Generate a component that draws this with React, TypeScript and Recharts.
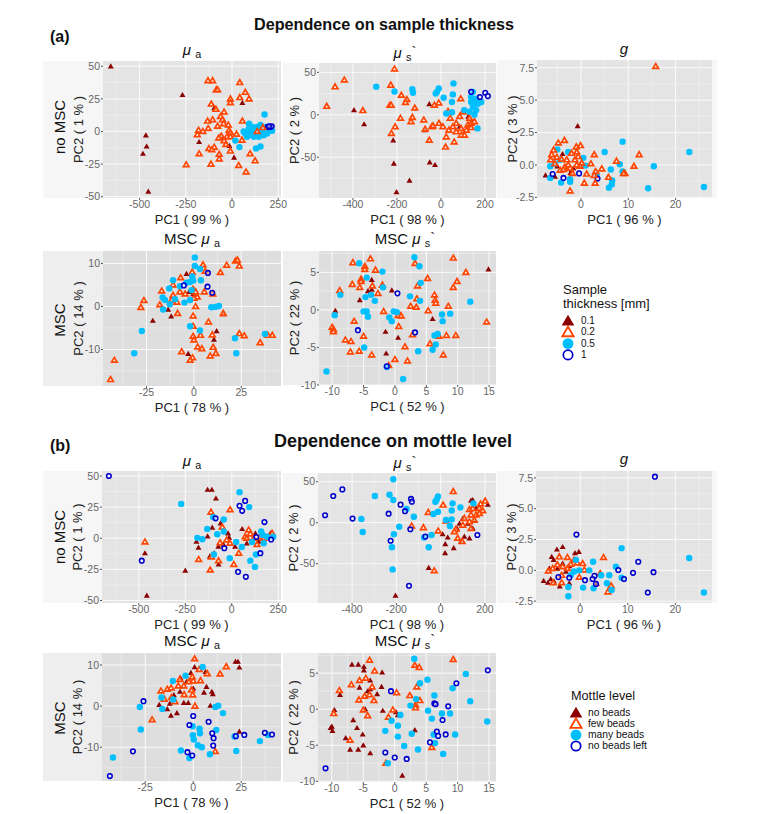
import React from 'react';
import { ScatterChart, Scatter, XAxis, YAxis, CartesianGrid } from 'recharts';

type Pt = [number, number];

// ---------- (a) thickness, mu_a ----------
const a1Thin: Pt[] = [[-656,50],[-268,28],[-466,-3],[-462,-11.5],[-482,-17],[-453,-46],[56,22],[-178,-8],[11,-20],[-96,18],[-14,-11],[-54,-5]];
const a1Few: Pt[] = [[-130,39],[-105,39],[42,37.5],[72,30],[-85,32],[-78,32],[42,26],[92,25],[-9,25],[-9,22],[-112,21],[-87,17],[-43,15],[-62,11.5],[-132,8],[-105,9],[-51,9],[-45,6],[56,8],[-78,4],[-20,5],[-181,1],[-129,2.3],[-158,0],[-188,-2.5],[-16,1],[-9,-1],[24,-2],[-58,-3.5],[-72,-5],[-27,-4],[-9,-4],[-43,-7],[54,-6.6],[-33,-10],[-96,-12],[-125,-13],[-109,-14],[-9,-15],[-178,-17],[-69,-17.5],[-69,-21],[98,-17],[125,-22.5],[-248,-25.5],[-114,-25],[36,-26],[76,-31]];
const a1Many: Pt[] = [[176,13],[92,6],[18,-7],[40,-12],[130,-13],[154,-11.5],[63,0],[81,-4],[90,2],[109,3.5],[118,0.5],[136,3.5],[154,5],[163,1],[181,3.5],[199,1],[217,0.5],[190,-1.5],[172,-3],[145,-4],[118,-4],[90,-3],[72,-1.5],[100,0],[127,-1.5],[154,-1],[172,1.5],[208,3]];
const a1Open: Pt[] = [[194,3.5],[208,3.5],[215,4],[200,4]];
const a1Top: Pt[] = [[167,3],[136,0]];

// ---------- (a) thickness, mu_s ----------
const a2Thin: Pt[] = [[-395,5.5],[-349,-11],[-217,-30],[-214,-57.5],[-51,-56],[-27,-59],[-143,-77.5],[-202,-91],[-53,12.6],[-74,-18],[85,-14],[124,-2]];
const a2Few: Pt[] = [[-211,54],[-439,41],[-481,33],[-519,10],[-355,5],[-228,35],[-232,11.4],[-226,11.4],[-180,23],[-155,18],[-161,14.6],[-119,8],[-184,-4],[-130,-3],[-136,-8],[-208,-14],[-225,-22],[-78,-6],[-72,-17],[-42,-14],[-36,-13],[-53,-30],[-30,11.4],[-10,14],[90,19],[32,4],[42,-4],[-9,-10],[9,-14],[36,-18],[24,-26],[21,-38],[60,-32],[69,-20],[92,-24],[107,-24],[69,-10],[85,-2],[100,3.5],[130,-4],[122,-12],[137,-10],[152,-8],[115,-18],[54,-14],[92,-16],[137,-15]];
const a2Many: Pt[] = [[-294,33],[-211,27.5],[-130,30],[-127,26],[-10,31],[-18,27],[-24,25],[12,20],[57,37],[54,24],[50,15],[106,5.5],[24,1.6],[50,3],[145,27],[137,15],[152,15],[168,13],[183,15],[145,9.4],[160,5.5],[130,3.5],[152,0],[166,-16],[137,21],[160,19]];
const a2Open: Pt[] = [[137,27],[177,21],[201,26],[213,22]];

// ---------- (a) thickness, g ----------
const a3Thin: Pt[] = [[-0.7,3],[-7.5,-0.8],[-5.5,-0.9],[-3.9,0.85],[-5,-0.1],[-2,-0.4],[-2.2,-0.6],[-1.6,-0.25]];
const a3Many: Pt[] = [[8.8,1.8],[5,1],[22.9,1],[8.2,0.05],[6.3,-0.35],[15.4,-0.1],[8.8,-0.5],[14.2,-1.8],[26,-1.7],[6.6,-1.2],[6.5,-1.5],[5.9,-1.75],[0.5,0.55],[1,-0.05],[-6.5,-0.1],[-6.5,-1],[-4.2,-1.35],[-2.3,-1.3],[-2.3,-1.1],[-5.5,0.1],[-2.7,1],[-5,1.2],[-4.4,0.4],[3.3,-0.75]];
const a3Open: Pt[] = [[-6,-0.7],[-3.7,-1],[-0.4,-0.65],[3.5,-1.05]];
const a3Few: Pt[] = [[15.8,7.6],[-3.5,1.9],[-4.8,1.7],[-1,1.4],[-0.1,1.5],[2.8,0.8],[12.3,0.8],[7.5,0.3],[2.1,0.1],[11.2,-0.1],[9.3,-0.65],[9,-0.65],[4.4,-0.3],[3.1,-0.5],[1.2,-0.7],[2.8,-0.8],[5.8,-0.95],[0.7,-1.4],[3,-1.4],[-2.3,-2],[-5.8,1.15],[-6.2,0.8],[-6.4,0.4],[-5.1,0.6],[-4.1,0.45],[-3,0.4],[-2,0.9],[-0.9,1],[-0.6,0.65],[-1.3,0.4],[0.15,0.15],[-3.4,-0.15],[-2.7,0],[-4.4,-0.4],[-3.7,-0.35],[-1.8,-0.65],[-0.2,-0.1],[-2.3,-0.25],[-5.5,0.1],[-0.9,0]];

// ---------- (a) thickness, MSC mu_a ----------
const a4Thin: Pt[] = [[-21.7,-3.3],[-12,-2.3],[-13.6,-0.7],[-3.9,7.6],[-0.4,2.9],[15.5,-1.8],[12,-5.7],[10.6,-7.7],[-3,-11],[-2.5,3.4]];
const a4Few: Pt[] = [[-42,-12.5],[-44,-17],[-26.4,1.4],[-28,-0.2],[-18,0.4],[-17,3.6],[-11,5],[-7,6.7],[-0.9,8],[4.8,9.7],[6,8.2],[14,7.9],[17.3,9.6],[22,10.6],[23,10.8],[24,9.4],[5.5,3.4],[10,2.9],[0.9,0],[-8.6,-1.6],[-0.4,-2.2],[15.5,-1.6],[7.7,-3.6],[-0.4,-4.6],[3.5,-6.7],[-0.4,-6.9],[0,-7.8],[9.7,-6.6],[24,-6.3],[26.6,-6.8],[35,-8.4],[39,-6.7],[41.4,-6.7],[10.2,-9.5],[2,-9.4],[4.2,-9.8],[-6.5,-10.5],[11.6,-10.9],[8.6,-11.5],[-0.7,-11.9],[-2,-12.5],[-11,2.6],[-11.8,1.5],[-9,1],[-7.4,3.4],[-4.6,2.9],[-0.4,4],[0.9,3.4],[1.8,2.2],[0,1.9]];
const a4Many: Pt[] = [[0.5,11.4],[0.5,9.4],[3.2,8.7],[-0.9,7],[3.7,6.1],[-11,6.1],[-3.9,5.5],[-0.4,6],[-2,5.7],[-7.4,4.7],[-13,4.2],[-16.5,2.1],[-15.3,1.5],[-16.2,-0.7],[-10,1.7],[-12.7,0.5],[-5,0.9],[-2,1.5],[-1.2,3.8],[9.2,-0.2],[11.3,-0.1],[13.2,0.1],[-2,-4.6],[3.2,-5.6],[-27.5,-5.7],[-31.5,-10.9],[21.7,-7.4],[37.5,-6.4],[22.4,-10.9]];
const a4Open: Pt[] = [[7.4,7.8],[-5.3,4.9],[7.2,4.6],[9.7,3.2]];

// ---------- (a) thickness, MSC mu_s ----------
const a5Thin: Pt[] = [[14.9,5.4],[-0.5,2.6],[-3.7,2.7],[-4.3,2.5],[-5.6,1.3],[-9.5,-0.1],[6,-1.2],[-1.5,-2.9],[0.5,-3.7],[-1.4,-5.8],[-3.7,4]];
const a5Few: Pt[] = [[-3.9,6.8],[-6.7,6.3],[9.3,6.9],[3.2,6.2],[-4.8,5.8],[-4.8,5.4],[-3.1,5.3],[11.3,5],[5.2,4.2],[-5.4,4.1],[-5.4,3.8],[-6.8,3.4],[-5.6,3],[-8.8,2.6],[-2,3.3],[-3.6,3.2],[-2.7,2.2],[3.6,3.2],[9.9,3.8],[9.3,3],[6.3,2],[3.5,1.5],[6.4,1.3],[6.5,0.9],[8.5,0.5],[2.5,0.5],[3.4,0.35],[5.3,-0.1],[-1.8,-0.2],[0.8,-0.7],[0.5,-0.75],[1,-0.8],[-6.5,-1.5],[0.6,-2.2],[-10,-2.3],[-9.8,-2.6],[-9.8,-2.9],[14.6,-1.6],[-5,-3.5],[2.8,-3.3],[7,-3.5],[8.2,-3.4],[9.7,-3.4],[-7.9,-4],[-7,-4.2],[5.6,-4.5],[1.6,-4.9],[-7.1,-5.6],[-5.7,-5.5],[-3.7,-6],[0,-6.6],[2,-6.8],[7.7,-6],[-1,-7.4]];
const a5Many: Pt[] = [[-5.7,6.2],[-2,5.1],[3.1,7],[3.9,5.8],[-4.5,4.3],[4.1,3.6],[-1.9,3],[-4.7,1.7],[-3.8,2],[-3.2,1.2],[2.4,1.8],[4,1.2],[12,1.1],[-8.7,2],[-9.6,-0.7],[-5,-0.2],[-4.5,-0.2],[-4.3,-0.9],[-0.2,-0.2],[0.3,-0.3],[-0.9,-1],[-0.5,-1.5],[7.5,-0.6],[8.8,-0.5],[7.6,-1.5],[6.8,-3.2],[6.3,-3.4],[6.5,-4.6],[6,-5.3],[3.7,-5.5],[-4.9,-5],[-10.9,-8.2],[1.3,-9.2],[-1.3,-7.6]];
const a5Open: Pt[] = [[0.4,2.2],[-5.9,-2.7],[3.2,-3],[-1.3,-7.5]];

// ---------- (b) mottle, mu_a ----------
const b1None: Pt[] = [[-130,39],[-107,39],[-85,32],[-60,12],[-105,8.6],[-130,1.6],[-20,4],[56,7.5],[-190,-2.7],[-179,-7.5],[-467,-12],[-94,-12],[-118,-14.5],[-14,0.5],[-71,-21],[-250,-26],[-457,-46],[-45,-5],[-72,-6.7],[18,-6.7],[81,-4],[127,4],[208,4],[145,-2.7]];
const b1Few: Pt[] = [[-467,-3],[-112,21],[-9,23],[-51,9],[-178,-17],[-116,-25.5],[-71,-18],[11,-21],[38,-12],[-109,-15],[91,6.7],[72,1.3],[100,3.5],[136,-5],[217,4],[-27,-1.3],[-63,-3.5],[-9,-4],[81,0],[154,1.3],[118,0],[172,0]];
const b1Many: Pt[] = [[42,37],[94,25],[-272,27.6],[-100,17],[-43,15],[-132,7.5],[-78,3.2],[-43,5.4],[-185,0.3],[-158,-0.8],[24,-3],[54,-7],[-96,-13],[-11,-16],[100,-18],[125,-23],[130,-13],[158,5.4],[172,-4],[109,-3],[167,2.7],[190,1.3],[223,1.3]];
const b1Left: Pt[] = [[-661,50],[-484,-18],[42,26],[72,30],[56,22],[-87,16],[176,13],[-40,-8],[154,-12],[34,-27],[76,-31],[132,1],[212,-1]];

// ---------- (b) mottle, mu_s ----------
const b2None: Pt[] = [[-54,-55],[-204,-89],[9,-14],[32,-18],[21,-26],[20,-37],[59,-31],[74,-7],[85,-1],[100,5],[122,-1],[154,2.4],[137,27],[145,27.6],[213,22],[130,-19],[92,-23],[145,-7],[107,-17],[160,17.5]];
const b2Few: Pt[] = [[57,38],[11,21.5],[-56,12.6],[-131,-4],[-78,-6],[-11,-10],[-29,-58.5],[24,2],[201,26.4],[180,22.8],[130,16],[145,17.5],[175,17.5],[190,14.6],[107,5.3],[137,9.4],[160,9.4],[175,11.4],[152,3.3],[130,1.2],[100,-3],[69,-8],[62,-11],[77,-19],[97,-23],[137,-7]];
const b2Many: Pt[] = [[-214,53],[-297,32.5],[-231,34],[-214,27.6],[-154,16.7],[-121,7.3],[-358,4.5],[-352,-11.4],[-187,-5],[-211,-14],[-220,-30],[-217,-57],[-75,-18],[-41,-15],[-54,-30],[-12,32],[-18,28],[-24,25.6],[-12,13.4],[-33,10.6],[54,23.6],[50,15],[89,18.7],[24,3.3],[50,4],[42,-4],[148,23.6]];
const b2Left: Pt[] = [[-522,9],[-485,32.5],[-444,40.6],[-398,5],[-235,11],[-181,22],[-161,14],[-134,29],[-130,25.6],[-137,-8],[-226,-22],[-143,-77],[-69,-17],[166,-15]];

// ---------- (b) mottle, g ----------
const b3None: Pt[] = [[-4.9,1.7],[-3.7,1.9],[-1.1,1.4],[-0.3,1.5],[-6,1.1],[-5.6,0.85],[-6.5,0.15],[-7.7,-0.85],[-6.8,-1],[-6.2,-0.7],[-4.3,-1.3],[-5.5,-0.9],[-4.8,0.15],[-3.7,0.55],[-2.3,0.35],[-3,-0.1],[3.5,-1.07],[-2.3,-1.05]];
const b3Few: Pt[] = [[4.9,1.05],[6.5,-1.25],[5.8,-1.75],[-4.4,1.1],[-2.7,1.05],[-1.3,0.85],[0.5,0.55],[-6.7,-0.05],[-5.8,0.15],[-4.8,0.45],[-3.7,0.3],[-2.7,0.15],[-3.9,-0.4],[-5.7,-1],[-3.9,-1],[-0.2,-0.55],[0.85,0.03],[4.2,-0.25],[-0.6,0.6],[-2,0.5]];
const b3Many: Pt[] = [[8.7,1.8],[22.9,1],[26,-1.8],[2.7,0.7],[7.5,0.3],[6.1,-0.4],[4.4,-0.4],[1.9,0],[8.7,-0.6],[5.6,-1.05],[6.6,-1.6],[0.6,-1.4],[2.8,-1.45],[-2.5,-1.35],[-2.5,-2.1],[-2,-0.4],[-0.9,0.85],[-0.2,0],[-1.3,-0.1]];
const b3Left: Pt[] = [[15.7,7.6],[-0.8,2.9],[12.2,0.7],[8,0.03],[11.1,-0.2],[15.4,-0.15],[9.2,-0.7],[14.2,-1.8],[1,-0.8],[3,-0.45],[2.6,-0.7],[-2.3,-0.6],[-4.6,-0.55],[3.3,-1.1]];

// ---------- (b) mottle, MSC mu_a ----------
const b4None: Pt[] = [[22,10.8],[23.3,10.8],[24,9.4],[0.7,9.5],[-1.2,8.1],[6.4,8.3],[-6.6,6.8],[-3.5,5.9],[6.9,4.7],[9.7,3.5],[10.2,2.9],[5.6,3.3],[-6.9,3.5],[-10.1,2.7],[-4.9,0.8],[-2.6,0.8],[-17.7,0.3],[-13.5,-0.7],[-11.6,-2.3],[-8.5,-1.7],[8.9,0.1],[24,-6.2],[-12.2,0.6],[0,4.3]];
const b4Few: Pt[] = [[0.7,11.5],[17.2,9.6],[14,7.8],[7.3,7.9],[3.1,8.9],[-0.5,7.1],[3.8,6.2],[-7,6.5],[-16.8,3.7],[-13.5,4.1],[-11.5,4.4],[-7.8,4.9],[-4.9,4.9],[-2.3,5.9],[0,6.1],[-15.1,1.7],[-11.3,2.1],[-9.5,1.1],[-4.7,2.8],[-0.3,2.7],[-0.9,3.9],[0.9,0],[-21.4,-3.3],[11.5,-11]];
const b4Many: Pt[] = [[4.9,9.5],[-4,7.4],[-10.6,6.1],[-16.5,2.1],[-16.1,-0.7],[-27.8,-0.2],[-27.3,-5.7],[-41.8,-12.5],[-10.4,1.6],[11.5,-0.2],[13,0.1],[15.5,-1.7],[-0.3,-4.9],[3.3,-5.5],[3.5,-6.6],[-0.2,-7.1],[0.3,-8.1],[2.4,-9.5],[4.5,-10],[-6.4,-10.8],[-2,-12.6],[8.7,-11.7],[12,-5.8],[21.5,-7.4],[22.4,-10.9],[34.7,-8.5],[39,-7]];
const b4Left: Pt[] = [[-43.4,-17],[-31.4,-11],[-25.9,1.2],[0,-2.4],[-2,-4.6],[8,-3.8],[9.9,-6.6],[10.6,-7.8],[10.4,-9.6],[-3,-11.2],[-0.5,-12],[26.6,-7],[22.2,-7.3],[37.3,-6.5],[41,-6.9]];

// ---------- (b) mottle, MSC mu_s ----------
const b5None: Pt[] = [[-6.8,6.2],[-5.8,6.2],[-4.9,5.9],[-4.9,5.4],[-2,5.1],[-3.9,4],[-5.6,3],[-2.1,3.1],[-2.8,2.1],[-4.3,2.5],[-3.9,2.8],[-9.6,-0.1],[-8.7,2],[-4.7,0],[-1.9,-0.2],[0.2,-0.4],[0.5,-0.8],[-6.6,-1.5],[-6,-2.6],[-10,-2.4],[-10.2,-2.6],[-9.9,-3],[-7.8,-4],[-5.1,-3.5],[-5,-5],[-7.1,-5.6],[-5.8,-5.6],[-3.9,-6.1],[3.2,-2.9],[1.2,-9.2]];
const b5Few: Pt[] = [[-4,6.8],[9.3,6.9],[3.2,6.1],[3.9,5.8],[-3.2,5.3],[-4.6,4.3],[-5.6,4],[-6.9,3.4],[-3.6,3.1],[-8.8,2.6],[-4,2],[-4.8,1.8],[-5.7,1.3],[-3.3,1.2],[0.3,2.3],[2.4,1.9],[3.5,3.1],[4,1.2],[3.3,0.6],[3.3,0.2],[-5,-0.1],[-4.3,-0.9],[-0.3,-0.1],[-1,-1.1],[-9.7,-0.6],[-7.1,-4.3],[5.9,-5.3],[-1.4,-7.5]];
const b5Many: Pt[] = [[3.1,7],[4,3.6],[5.2,4.1],[11.3,4.9],[9.2,2.9],[6.3,1.9],[3.4,1.4],[12,1.1],[2.5,0.5],[5.3,-0.2],[7.5,-0.6],[8.8,-0.6],[5.9,-1.3],[14.7,-1.7],[9.6,-3.5],[6.2,-3.5],[2.7,-3.4],[0.5,-3.8],[0.5,-2.3],[-0.5,-1.6],[0.9,-0.8],[-1.5,-3],[1.5,-5.1],[3.7,-5.6],[6.4,-4.7],[7.7,-6.2],[-1.1,-7.5]];
const b5Left: Pt[] = [[14.8,5.4],[9.8,3.6],[-0.6,2.5],[6.3,0.8],[6.5,0.7],[8.5,0.4],[7.6,-1.5],[6.7,-3.1],[6.9,-3.7],[8.1,-3.5],[5.6,-4.6],[-1.5,-6],[0,-6.7],[1.9,-6.9],[-11,-8.2]];

// ---------- ticks and labels ----------
const ticksMuA = [-500, -250, 0, 250];
const ticksMuAY = [-50, -25, 0, 25, 50];
const ticksMuS = [-400, -200, 0, 200];
const ticksMuSY = [-50, 0, 50];
const ticksG = [0, 10, 20];
const ticksGY = [-2.5, 0, 2.5, 5, 7.5];
const ticksMscA = [-25, 0, 25];
const ticksMscAY = [-10, 0, 10];
const ticksMscS = [-10, -5, 0, 5, 10, 15];
const ticksMscSY = [-10, -5, 0, 5];
const thicknessLabels = ['0.1', '0.2', '0.5', '1'];
const mottleLabels = ['no beads', 'few beads', 'many beads', 'no beads left'];

const FONT = '"Liberation Sans", Arial, sans-serif';
const DARK = '#8b0000';
const ORANGE = '#ff4500';
const SKY = '#00bfff';
const NAVY = '#0000cd';

type Kind = 0 | 1 | 2 | 3;

function Marker({ kind, cx, cy, k = 1, sw = 1 }: { kind: Kind; cx: number; cy: number; k?: number; sw?: number }) {
  if (kind === 0) {
    const r = 3 * k;
    return <path d={`M${cx} ${cy - r}L${cx + r} ${cy + r * 0.72}L${cx - r} ${cy + r * 0.72}Z`} fill={DARK} />;
  }
  if (kind === 1) {
    const r = 2.8 * k;
    return <path d={`M${cx} ${cy - r}L${cx + r} ${cy + r * 0.7}L${cx - r} ${cy + r * 0.7}Z`} fill="#ffffff" fillOpacity={0.65} stroke={ORANGE} strokeWidth={1.7 * sw} />;
  }
  if (kind === 2) return <circle cx={cx} cy={cy} r={3.2 * k} fill={SKY} />;
  return <circle cx={cx} cy={cy} r={2.3 * k} fill="#ffffff" fillOpacity={0.45} stroke={NAVY} strokeWidth={1.55 * sw} />;
}

const mids = (t: number[], d: [number, number]) => {
  const step = t[1] - t[0];
  const out: number[] = [];
  for (let i = -1; i < t.length; i++) {
    const v = t[0] + (i + 0.5) * step;
    if (v > d[0] && v < d[1]) out.push(v);
  }
  return out;
};

type PanelCfg = {
  box: [number, number, number, number];
  plotLeft: number;
  dx: [number, number];
  dy: [number, number];
  tx: number[];
  ty: number[];
  xl: string;
  yl: string;
  series: Pt[][];
  kinds: Kind[];
  msc: boolean;
  tail?: number;
};

const KINDS: Kind[] = [0, 1, 2, 3];

const panels: PanelCfg[] = [
  { box: [43, 61, 281, 198], plotLeft: 103, dx: [-698, 265], dy: [-51, 54], tx: ticksMuA, ty: ticksMuAY, xl: 'PC1 ( 99 % )', yl: 'PC2 ( 1 % )', series: [a1Thin, a1Few, a1Many, a1Open, a1Top], kinds: [0, 1, 2, 3, 1], msc: false },
  { box: [283, 63, 496, 198], plotLeft: 319, dx: [-554, 250], dy: [-98, 61], tx: ticksMuS, ty: ticksMuSY, xl: 'PC1 ( 98 % )', yl: 'PC2 ( 2 % )', series: [a2Thin, a2Few, a2Many, a2Open], kinds: KINDS, msc: false },
  { box: [497, 60, 712, 198], plotLeft: 537, dx: [-9.3, 27.7], dy: [-2.55, 8.1], tx: ticksG, ty: ticksGY, xl: 'PC1 ( 96 % )', yl: 'PC2 ( 3 % )', series: [a3Thin, a3Many, a3Open, a3Few], kinds: [0, 2, 3, 1], msc: false, tail: 5 },
  { box: [43, 251, 281, 386], plotLeft: 103, dx: [-48, 46], dy: [-18.5, 12.9], tx: ticksMscA, ty: ticksMscAY, xl: 'PC1 ( 78 % )', yl: 'PC2 ( 14 % )', series: [a4Thin, a4Few, a4Many, a4Open], kinds: KINDS, msc: true },
  { box: [283, 251, 496, 385], plotLeft: 319, dx: [-12.1, 16.1], dy: [-10, 7.84], tx: ticksMscS, ty: ticksMscSY, xl: 'PC1 ( 52 % )', yl: 'PC2 ( 22 % )', series: [a5Thin, a5Few, a5Many, a5Open], kinds: KINDS, msc: true },
  { box: [43, 471, 281, 603], plotLeft: 102, dx: [-698, 265], dy: [-52, 54], tx: ticksMuA, ty: ticksMuAY, xl: 'PC1 ( 99 % )', yl: 'PC2 ( 1 % )', series: [b1None, b1Few, b1Many, b1Left], kinds: KINDS, msc: false },
  { box: [283, 473, 496, 603], plotLeft: 318, dx: [-554, 250], dy: [-98, 60.6], tx: ticksMuS, ty: ticksMuSY, xl: 'PC1 ( 98 % )', yl: 'PC2 ( 2 % )', series: [b2None, b2Few, b2Many, b2Left], kinds: KINDS, msc: false },
  { box: [497, 471, 712, 603], plotLeft: 536, dx: [-9.3, 27.7], dy: [-2.65, 8.06], tx: ticksG, ty: ticksGY, xl: 'PC1 ( 96 % )', yl: 'PC2 ( 3 % )', series: [b3None, b3Few, b3Many, b3Left], kinds: KINDS, msc: false, tail: 5 },
  { box: [43, 653, 281, 781], plotLeft: 102, dx: [-47.5, 45.7], dy: [-18.2, 12.9], tx: ticksMscA, ty: ticksMscAY, xl: 'PC1 ( 78 % )', yl: 'PC2 ( 14 % )', series: [b4None, b4Few, b4Many, b4Left], kinds: KINDS, msc: true },
  { box: [283, 653, 496, 782], plotLeft: 318, dx: [-12.2, 16.1], dy: [-10.1, 7.8], tx: ticksMscS, ty: ticksMscSY, xl: 'PC1 ( 52 % )', yl: 'PC2 ( 22 % )', series: [b5None, b5Few, b5Many, b5Left], kinds: KINDS, msc: true },
];

const tickStyle = { fontSize: 10.5, fill: '#666666', fontFamily: FONT };
const labelStyle = { fontSize: 13, fill: '#222222', fontFamily: FONT };
const EXTRA_RIGHT = 14;

function Panel({ p }: { p: PanelCfg }) {
  const [l, t, r, b] = p.box;
  const yAxisW = p.plotLeft - l;
  const labelX = p.plotLeft - 25;
  return (
    <>
      <div style={{ position: 'absolute', left: l, top: t, width: r - l + (p.tail || 0), height: b - t, background: p.msc ? '#eeeeee' : '#f6f6f6' }} />
      <div style={{ position: 'absolute', left: l, top: t }}>
        <ScatterChart width={r - l + EXTRA_RIGHT} height={b - t + 30} margin={{ top: 0, right: EXTRA_RIGHT, bottom: 0, left: 0 }}>
          <CartesianGrid fill={p.msc ? '#dedede' : '#e4e4e4'} fillOpacity={1} stroke="#f4f4f4" strokeWidth={0.5} horizontalValues={mids(p.ty, p.dy)} verticalValues={mids(p.tx, p.dx)} />
          <CartesianGrid stroke="#fafafa" strokeWidth={1} horizontalValues={p.ty} verticalValues={p.tx} />
          <XAxis
            type="number"
            dataKey="x"
            domain={p.dx}
            ticks={p.tx}
            interval={0}
            allowDataOverflow
            height={30}
            axisLine={false}
            tickLine={{ stroke: '#555555' }}
            tickSize={2}
            tickMargin={1}
            tick={tickStyle}
            label={{ value: p.xl, position: 'insideBottom', offset: 4, style: labelStyle }}
          />
          <YAxis
            type="number"
            dataKey="y"
            domain={p.dy}
            ticks={p.ty}
            interval={0}
            allowDataOverflow
            width={yAxisW}
            axisLine={false}
            tickLine={{ stroke: '#555555' }}
            tickSize={2}
            tickMargin={1}
            tick={tickStyle}
            tickFormatter={(v: number) => (p.tx === ticksG ? v.toFixed(1) : String(v))}
            label={{ value: p.yl, angle: -90, position: 'center', dx: labelX - (l + p.plotLeft) / 2, style: labelStyle }}
          />
          {p.series.map((s, i) => (
            <Scatter
              key={i}
              data={s.map(([x, y]) => ({ x, y }))}
              isAnimationActive={false}
              shape={(q: any) => <Marker kind={p.kinds[i]} cx={q.cx} cy={q.cy} />}
            />
          ))}
        </ScatterChart>
      </div>
    </>
  );
}

function Txt({ x, y, size, bold, rot, anchor = 'middle', children }: any) {
  const tx = anchor === 'middle' ? '-50%' : '0';
  return (
    <div
      style={{
        position: 'absolute',
        left: x,
        top: y,
        fontFamily: FONT,
        fontSize: size,
        fontWeight: bold ? 700 : 400,
        color: '#111',
        whiteSpace: 'nowrap',
        lineHeight: 1,
        transform: `translate(${tx}, -50%)${rot ? ` rotate(${rot}deg)` : ''}`,
      }}
    >
      {children}
    </div>
  );
}

const Sub = ({ children }: any) => <span style={{ fontSize: '0.72em', position: 'relative', top: 3 }}>{children}</span>;
const Mu = () => <i>{'\u03bc'}</i>;
const MuA = () => (<><Mu /> <Sub>a</Sub></>);
const MuS = () => (<><Mu /> <Sub>s</Sub><span style={{ position: 'relative', top: -1 }}>`</span></>);

const legendScale = [2.1, 2.0, 1.7, 2.05];

function LegendBlock({ x, y, rowH, labels, labelX, size }: any) {
  return (
    <>
      <svg style={{ position: 'absolute', left: 0, top: 0, pointerEvents: 'none' }} width={768} height={814}>
        {labels.map((_: string, i: number) => (
          <Marker key={i} kind={i as Kind} cx={x} cy={y + i * rowH} k={legendScale[i]} sw={1.1} />
        ))}
      </svg>
      {labels.map((s: string, i: number) => (
        <Txt key={s} x={labelX} y={y + i * rowH} size={size} anchor="start">{s}</Txt>
      ))}
    </>
  );
}

export default function App() {
  return (
    <div style={{ position: 'absolute', left: 0, top: 0, width: 768, height: 814, background: '#fff', overflow: 'hidden' }}>
      <Txt x={384} y={24} size={16.2} bold>Dependence on sample thickness</Txt>
      <Txt x={50} y={37} size={16} bold anchor="start">(a)</Txt>
      <Txt x={393} y={441} size={18} bold>Dependence on mottle level</Txt>
      <Txt x={50} y={446} size={16} bold anchor="start">(b)</Txt>

      {panels.map((p, i) => <Panel key={i} p={p} />)}

      <Txt x={192} y={49} size={15}><MuA /></Txt>
      <Txt x={405} y={52} size={15}><MuS /></Txt>
      <Txt x={624} y={48} size={15}><i>g</i></Txt>
      <Txt x={192} y={238} size={15}>MSC <MuA /></Txt>
      <Txt x={405} y={238} size={15}>MSC <MuS /></Txt>
      <Txt x={192} y={460} size={15}><MuA /></Txt>
      <Txt x={405} y={462} size={15}><MuS /></Txt>
      <Txt x={624} y={458} size={15}><i>g</i></Txt>
      <Txt x={192} y={640} size={15}>MSC <MuA /></Txt>
      <Txt x={405} y={640} size={15}>MSC <MuS /></Txt>

      <Txt x={59} y={127} size={15} rot={-90}>no MSC</Txt>
      <Txt x={59} y={320} size={15} rot={-90}>MSC</Txt>
      <Txt x={59} y={537} size={15} rot={-90}>no MSC</Txt>
      <Txt x={59} y={718} size={15} rot={-90}>MSC</Txt>

      <Txt x={563} y={289} size={13} anchor="start">Sample</Txt>
      <Txt x={563} y={303} size={13} anchor="start">thickness [mm]</Txt>
      <LegendBlock x={568} y={321} rowH={11.3} labels={thicknessLabels} labelX={581} size={10} />

      <Txt x={571} y={696} size={12.7} anchor="start">Mottle level</Txt>
      <LegendBlock x={576} y={713} rowH={11} labels={mottleLabels} labelX={588} size={10.3} />
    </div>
  );
}
